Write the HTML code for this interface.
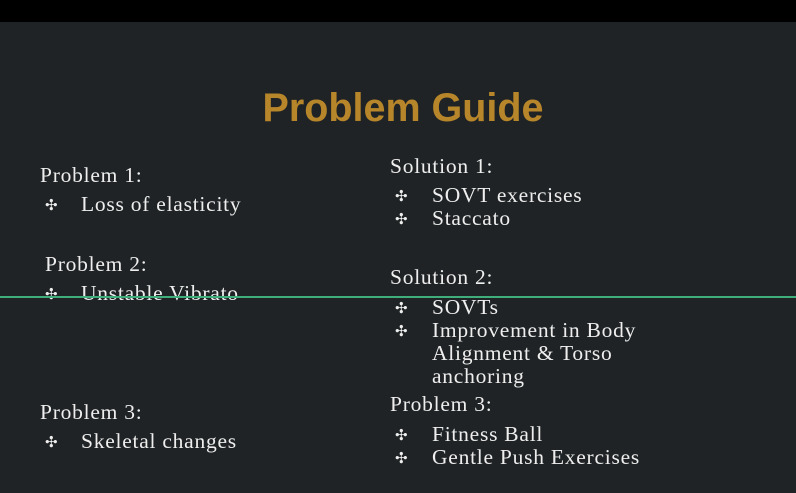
<!DOCTYPE html>
<html><head><meta charset="utf-8"><style>
html,body{margin:0;padding:0}
body{width:796px;height:493px;background:#1f2325;position:relative;overflow:hidden}
.bar{position:absolute;left:0;top:0;width:796px;height:22px;background:#000}
.t{position:absolute;left:0;width:796px;top:84px;text-align:center;font:bold 39.5px "Liberation Sans",sans-serif;color:#b8862a;line-height:48px;padding-left:10px;box-sizing:border-box}
.l{position:absolute;font:21.5px "Liberation Serif",serif;letter-spacing:0.75px;color:#eeeeee;line-height:23px;white-space:nowrap}
.b{position:absolute;font:15px "DejaVu Sans",sans-serif;color:#eee;line-height:23px}
.g{position:absolute;left:0;top:296px;width:796px;height:2px;background:#3fae7a}
</style></head><body>
<div class="bar"></div>
<div class="t">Problem Guide</div>
<div class="l" style="left:40px;top:164px">Problem 1:</div>
<div class="b" style="left:45px;top:194px">✣</div><div class="l" style="left:81px;top:193px">Loss of elasticity</div>
<div class="l" style="left:45px;top:253px">Problem 2:</div>
<div class="b" style="left:45px;top:283px">✣</div><div class="l" style="left:81px;top:282px">Unstable Vibrato</div>
<div class="l" style="left:40px;top:401px">Problem 3:</div>
<div class="b" style="left:45px;top:431px">✣</div><div class="l" style="left:81px;top:430px">Skeletal changes</div>

<div class="l" style="left:390px;top:155px">Solution 1:</div>
<div class="b" style="left:395px;top:185px">✣</div><div class="l" style="left:432px;top:184px">SOVT exercises</div>
<div class="b" style="left:395px;top:208px">✣</div><div class="l" style="left:432px;top:207px">Staccato</div>
<div class="l" style="left:390px;top:266px">Solution 2:</div>
<div class="b" style="left:395px;top:297px">✣</div><div class="l" style="left:432px;top:296px">SOVTs</div>
<div class="b" style="left:395px;top:320px">✣</div><div class="l" style="left:432px;top:319px">Improvement in Body</div>
<div class="l" style="left:432px;top:342px">Alignment &amp; Torso</div>
<div class="l" style="left:432px;top:365px">anchoring</div>
<div class="l" style="left:390px;top:393px">Problem 3:</div>
<div class="b" style="left:395px;top:424px">✣</div><div class="l" style="left:432px;top:423px">Fitness Ball</div>
<div class="b" style="left:395px;top:447px">✣</div><div class="l" style="left:432px;top:446px">Gentle Push Exercises</div>
<div class="g"></div>
</body></html>
